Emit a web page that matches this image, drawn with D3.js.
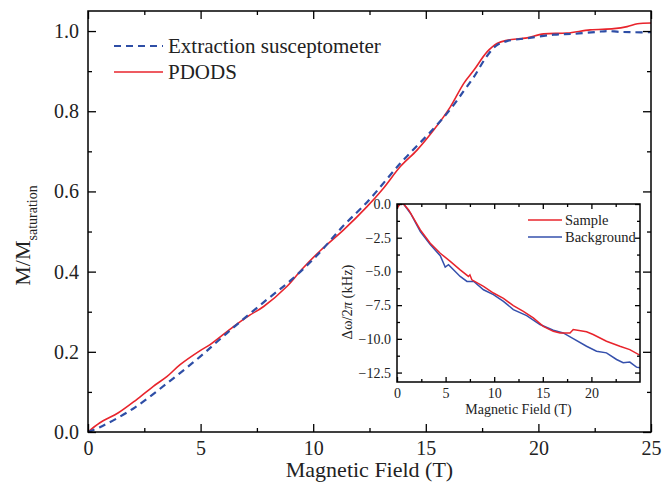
<!DOCTYPE html>
<html>
<head>
<meta charset="utf-8">
<script src="https://cdn.jsdelivr.net/npm/d3@7"></script>
<style>
  body { margin: 0; background: #fff; }
  svg, svg text { font-family: "Liberation Serif", "DejaVu Serif", serif; }
  .axis path { display: none; }
  .axis line { stroke: #000; stroke-width: 1.3px; }
</style>
</head>
<body>
<div id="chart"></div>
<script>

// Main panel data
var pdodsField = [0, 0.53, 1.35, 2.16, 2.9, 3.5, 4.09, 4.98, 5.42, 6.46, 7.2, 7.8, 8.83, 9.5, 10.31, 11.35, 12.39, 13.12, 13.87, 14.61, 15.35, 16.09, 16.68, 17.13, 17.72, 18.16, 18.61, 19.2, 19.5, 20.24, 21.27, 22.3, 23.35, 23.94, 24.4, 25]
var pdodsM = [0, 0.023, 0.048, 0.081, 0.114, 0.138, 0.168, 0.203, 0.218, 0.263, 0.292, 0.313, 0.363, 0.406, 0.452, 0.504, 0.562, 0.608, 0.662, 0.703, 0.753, 0.811, 0.869, 0.902, 0.948, 0.969, 0.977, 0.981, 0.983, 0.993, 0.995, 1.003, 1.006, 1.011, 1.018, 1.02]

var extField = [0, 0.53, 2.0, 3.5, 4.98, 5.87, 6.76, 7.94, 9.0, 10.16, 11.35, 12.39, 13.87, 15.35, 16.09, 16.68, 17.13, 17.72, 18.16, 18.6, 19.5, 20.68, 21.57, 22.6, 23.05, 23.6, 24.24, 25]
var extM = [0, 0.012, 0.058, 0.121, 0.188, 0.232, 0.275, 0.33, 0.378, 0.44, 0.515, 0.573, 0.67, 0.757, 0.805, 0.85, 0.885, 0.938, 0.965, 0.975, 0.982, 0.991, 0.993, 0.998, 1.0, 0.998, 0.997, 0.997]

var mainXMajor = [0, 5, 10, 15, 20, 25]
var mainXMinor = [2.5, 7.5, 12.5, 17.5, 22.5]
var mainYMajor = [0, 0.2, 0.4, 0.6, 0.8, 1.0]
var mainYMinor = [0.1, 0.3, 0.5, 0.7, 0.9]
var legendLabels = ['Extraction susceptometer', 'PDODS']

// Inset data
var sampleField = [0, 0.3, 0.68, 1.2, 2.4, 3.42, 4.45, 5.48, 6.5, 7.35, 7.5, 7.7, 8.9, 9.92, 10.95, 11.97, 13.0, 14.02, 15.05, 16.08, 16.77, 17.8, 18.13, 19.5, 20.18, 21.55, 22.93, 23.95, 24.98]
var sampleShift = [-0.32, 0, 0, -0.44, -1.92, -2.91, -3.65, -4.26, -4.88, -5.37, -5.25, -5.62, -6.11, -6.6, -7.0, -7.54, -7.96, -8.45, -9.07, -9.44, -9.56, -9.56, -9.31, -9.48, -9.68, -10.18, -10.55, -10.8, -11.21]

var backgroundField = [0, 0.3, 0.68, 1.4, 2.4, 3.42, 4.45, 4.96, 5.3, 6.5, 7.2, 7.9, 8.9, 9.92, 10.95, 11.97, 13.34, 14.71, 16.08, 17.1, 18.13, 19.5, 20.53, 21.55, 22.59, 23.27, 23.95, 24.64, 24.98]
var backgroundShift = [-0.2, 0, 0, -0.7, -2.05, -3.0, -3.84, -4.68, -4.5, -5.37, -5.74, -5.74, -6.36, -6.72, -7.22, -7.83, -8.28, -8.94, -9.36, -9.56, -9.98, -10.55, -10.92, -11.04, -11.53, -11.77, -11.72, -12.1, -12.15]

var insetXMajor = [0, 5, 10, 15, 20]
var insetXMinor = [2.5, 7.5, 12.5, 17.5, 22.5]
var insetYMajor = [0, -2.5, -5, -7.5, -10, -12.5]
var insetYMinor = [-1.25, -3.75, -6.25, -8.75, -11.25]
var insetLegendLabels = ['Sample', 'Background']

var red = '#e8242c', blue = '#2e4ea6'
var serif = '"Liberation Serif", "DejaVu Serif", serif'
var width = 672, height = 497

var svg = d3.select('#chart').append('svg')
    .attr('width', width)
    .attr('height', height)

// Main scales
var x = d3.scaleLinear().domain([0, 25]).range([88, 651])
var y = d3.scaleLinear().domain([0, 1.05]).range([432, 11])

var zipPts = (xs, ys) => xs.map((d, i) => [d, ys[i]])

svg.append('clipPath').attr('id', 'clipMain')
  .append('rect')
    .attr('x', x(0)).attr('y', y(1.05))
    .attr('width', x(25) - x(0)).attr('height', y(0) - y(1.05))

var lineMain = d3.line()
    .x(d => x(d[0]))
    .y(d => y(d[1]))
    .curve(d3.curveCatmullRom)

svg.append('path')
    .datum(zipPts(pdodsField, pdodsM))
    .attr('clip-path', 'url(#clipMain)')
    .attr('fill', 'none')
    .attr('stroke', red)
    .attr('stroke-width', 1.6)
    .attr('d', lineMain)

svg.append('path')
    .datum(zipPts(extField, extM))
    .attr('clip-path', 'url(#clipMain)')
    .attr('fill', 'none')
    .attr('stroke', blue)
    .attr('stroke-width', 2.2)
    .attr('stroke-dasharray', '7,5')
    .attr('d', lineMain)

// Draws major + minor ticks on all four sides of a frame
function drawFrame(g, xs, ys, xMajor, xMinor, yMajor, yMinor, major, minor, xFmt, yFmt, fontSize, pad) {
  var x0 = xs.range()[0], x1 = xs.range()[1]
  var y0 = ys.range()[0], y1 = ys.range()[1]

  var styleText = s => {
    s.attr('font-family', serif).attr('font-size', fontSize)
    s.selectAll('text')
      .style('font-family', serif)
      .style('font-size', fontSize)
      .attr('fill', '#222')
  }

  g.append('g').attr('class', 'axis').attr('transform', 'translate(0,' + y0 + ')')
    .call(d3.axisBottom(xs).tickValues(xMajor).tickSize(-major).tickSizeOuter(0).tickPadding(pad).tickFormat(xFmt))
    .call(styleText)
  g.append('g').attr('class', 'axis').attr('transform', 'translate(0,' + y0 + ')')
    .call(d3.axisBottom(xs).tickValues(xMinor).tickSize(-minor).tickSizeOuter(0).tickFormat(''))
  g.append('g').attr('class', 'axis').attr('transform', 'translate(0,' + y1 + ')')
    .call(d3.axisTop(xs).tickValues(xMajor).tickSize(-major).tickSizeOuter(0).tickFormat(''))
  g.append('g').attr('class', 'axis').attr('transform', 'translate(0,' + y1 + ')')
    .call(d3.axisTop(xs).tickValues(xMinor).tickSize(-minor).tickSizeOuter(0).tickFormat(''))

  g.append('g').attr('class', 'axis').attr('transform', 'translate(' + x0 + ',0)')
    .call(d3.axisLeft(ys).tickValues(yMajor).tickSize(-major).tickSizeOuter(0).tickPadding(pad).tickFormat(yFmt))
    .call(styleText)
  g.append('g').attr('class', 'axis').attr('transform', 'translate(' + x0 + ',0)')
    .call(d3.axisLeft(ys).tickValues(yMinor).tickSize(-minor).tickSizeOuter(0).tickFormat(''))
  g.append('g').attr('class', 'axis').attr('transform', 'translate(' + x1 + ',0)')
    .call(d3.axisRight(ys).tickValues(yMajor).tickSize(-major).tickSizeOuter(0).tickFormat(''))
  g.append('g').attr('class', 'axis').attr('transform', 'translate(' + x1 + ',0)')
    .call(d3.axisRight(ys).tickValues(yMinor).tickSize(-minor).tickSizeOuter(0).tickFormat(''))

  g.append('rect')
    .attr('x', x0).attr('y', y1)
    .attr('width', x1 - x0).attr('height', y0 - y1)
    .attr('fill', 'none')
    .attr('stroke', '#000')
    .attr('stroke-width', 1.5)
}

drawFrame(svg.append('g'), x, y, mainXMajor, mainXMinor, mainYMajor, mainYMinor, 8, 4,
  d3.format('d'), d3.format('.1f'), '20px', 9)

// Main axis titles
svg.append('text')
    .attr('x', (x(0) + x(25)) / 2)
    .attr('y', 477)
    .attr('text-anchor', 'middle')
    .attr('font-size', '22px')
    .attr('fill', '#222')
    .text('Magnetic Field (T)')

var yLab = svg.append('text')
    .attr('transform', 'translate(30,' + ((y(0) + y(1.05)) / 2 + 14) + ') rotate(-90)')
    .attr('text-anchor', 'middle')
    .attr('font-size', '22px')
    .attr('fill', '#222')
yLab.append('tspan').text('M/M')
yLab.append('tspan').attr('font-size', '14px').attr('dy', 7).text('saturation')

// Main legend
var legendMain = svg.append('g').selectAll('g')
    .data(legendLabels)
  .enter().append('g')
    .attr('transform', (d, i) => 'translate(114,' + (46 + i * 26) + ')')

legendMain.append('line')
    .attr('x1', 0).attr('x2', 49)
    .attr('stroke', (d, i) => i == 0 ? blue : red)
    .attr('stroke-width', (d, i) => i == 0 ? 2.2 : 1.6)
    .attr('stroke-dasharray', (d, i) => i == 0 ? '7,5' : null)
legendMain.append('text')
    .attr('x', 54).attr('y', 7)
    .attr('font-size', '21px')
    .attr('fill', '#222')
    .text(d => d)

// Inset
var xi = d3.scaleLinear().domain([0, 25]).range([397, 640])
var yi = d3.scaleLinear().domain([-13.2, 0]).range([382, 204])

var inset = svg.append('g')

inset.append('rect')
    .attr('x', xi(0)).attr('y', yi(0))
    .attr('width', xi(25) - xi(0)).attr('height', yi(-13.2) - yi(0))
    .attr('fill', '#fff')

svg.append('clipPath').attr('id', 'clipInset')
  .append('rect')
    .attr('x', xi(0)).attr('y', yi(0))
    .attr('width', xi(25) - xi(0)).attr('height', yi(-13.2) - yi(0))

var lineInset = d3.line()
    .x(d => xi(d[0]))
    .y(d => yi(d[1]))

inset.append('path')
    .datum(zipPts(backgroundField, backgroundShift))
    .attr('clip-path', 'url(#clipInset)')
    .attr('fill', 'none')
    .attr('stroke', '#3550ac')
    .attr('stroke-width', 1.5)
    .attr('d', lineInset)

inset.append('path')
    .datum(zipPts(sampleField, sampleShift))
    .attr('clip-path', 'url(#clipInset)')
    .attr('fill', 'none')
    .attr('stroke', red)
    .attr('stroke-width', 1.5)
    .attr('d', lineInset)

drawFrame(inset, xi, yi, insetXMajor, insetXMinor, insetYMajor, insetYMinor, 5, 3,
  d3.format('d'), d3.format('.1f'), '14px', 6)

inset.append('text')
    .attr('x', (xi(0) + xi(25)) / 2)
    .attr('y', 414)
    .attr('text-anchor', 'middle')
    .attr('font-size', '14px')
    .attr('fill', '#222')
    .text('Magnetic Field (T)')

var yiLab = inset.append('text')
    .attr('transform', 'translate(352,' + ((yi(0) + yi(-13.2)) / 2 + 9) + ') rotate(-90)')
    .attr('text-anchor', 'middle')
    .attr('font-size', '14.5px')
    .attr('fill', '#222')
yiLab.append('tspan').text('Δω/2')
yiLab.append('tspan').attr('font-style', 'italic').text('π')
yiLab.append('tspan').text(' (kHz)')

// Inset legend
var legendInset = inset.append('g').selectAll('g')
    .data(insetLegendLabels)
  .enter().append('g')
    .attr('transform', (d, i) => 'translate(528,' + (220 + i * 17) + ')')

legendInset.append('line')
    .attr('x1', 0).attr('x2', 34)
    .attr('stroke', (d, i) => i == 0 ? red : '#3550ac')
    .attr('stroke-width', 1.5)
legendInset.append('text')
    .attr('x', 37).attr('y', 5)
    .attr('font-size', '14.5px')
    .attr('fill', '#222')
    .text(d => d)

</script>
</body>
</html>
